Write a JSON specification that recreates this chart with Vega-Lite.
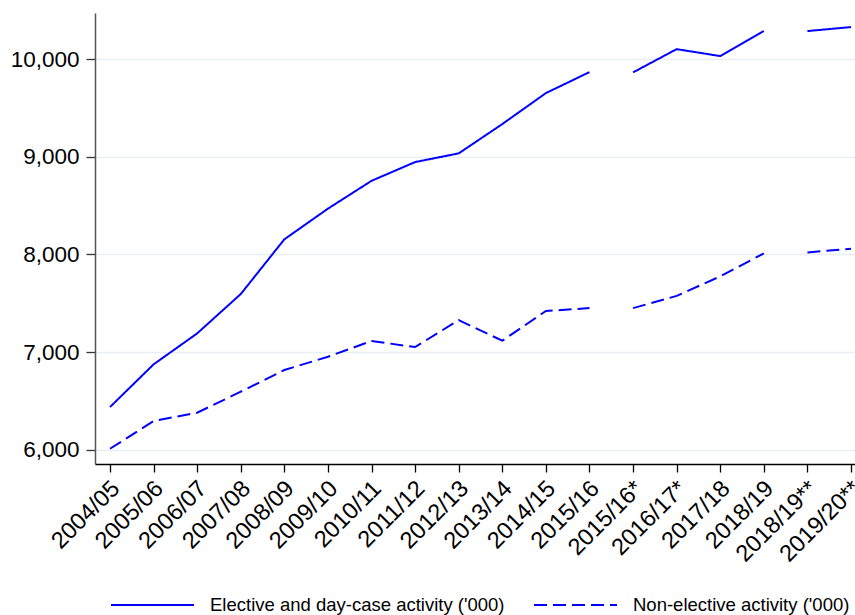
{
  "$schema": "https://vega.github.io/schema/vega-lite/v6.json",
  "width": 771,
  "height": 451,
  "padding": {"left": 10, "top": 13, "right": 5, "bottom": 5},
  "background": "white",
  "config": {
    "view": {"stroke": null},
    "font": "Liberation Sans",
    "axis": {"labelFont": "Liberation Sans", "labelColor": "#000000", "tickColor": "#000000", "domainColor": "#000000", "titleFont": "Liberation Sans"},
    "legend": {"labelFont": "Liberation Sans", "labelFontSize": 18.5, "labelColor": "#000000", "labelLimit": 0}
  },
  "data": {
    "values": [
      {"year": "2004/05", "series": "Elective and day-case activity ('000)", "segment": 1, "value": 6437},
      {"year": "2005/06", "series": "Elective and day-case activity ('000)", "segment": 1, "value": 6874},
      {"year": "2006/07", "series": "Elective and day-case activity ('000)", "segment": 1, "value": 7191},
      {"year": "2007/08", "series": "Elective and day-case activity ('000)", "segment": 1, "value": 7594},
      {"year": "2008/09", "series": "Elective and day-case activity ('000)", "segment": 1, "value": 8154},
      {"year": "2009/10", "series": "Elective and day-case activity ('000)", "segment": 1, "value": 8468},
      {"year": "2010/11", "series": "Elective and day-case activity ('000)", "segment": 1, "value": 8753},
      {"year": "2011/12", "series": "Elective and day-case activity ('000)", "segment": 1, "value": 8945},
      {"year": "2012/13", "series": "Elective and day-case activity ('000)", "segment": 1, "value": 9034},
      {"year": "2013/14", "series": "Elective and day-case activity ('000)", "segment": 1, "value": 9334},
      {"year": "2014/15", "series": "Elective and day-case activity ('000)", "segment": 1, "value": 9651},
      {"year": "2015/16", "series": "Elective and day-case activity ('000)", "segment": 1, "value": 9866},
      {"year": "2015/16*", "series": "Elective and day-case activity ('000)", "segment": 2, "value": 9863},
      {"year": "2016/17*", "series": "Elective and day-case activity ('000)", "segment": 2, "value": 10101},
      {"year": "2017/18", "series": "Elective and day-case activity ('000)", "segment": 2, "value": 10030},
      {"year": "2018/19", "series": "Elective and day-case activity ('000)", "segment": 2, "value": 10286},
      {"year": "2018/19**", "series": "Elective and day-case activity ('000)", "segment": 3, "value": 10286},
      {"year": "2019/20**", "series": "Elective and day-case activity ('000)", "segment": 3, "value": 10327},
      {"year": "2004/05", "series": "Non-elective activity ('000)", "segment": 1, "value": 6010},
      {"year": "2005/06", "series": "Non-elective activity ('000)", "segment": 1, "value": 6294},
      {"year": "2006/07", "series": "Non-elective activity ('000)", "segment": 1, "value": 6379},
      {"year": "2007/08", "series": "Non-elective activity ('000)", "segment": 1, "value": 6594},
      {"year": "2008/09", "series": "Non-elective activity ('000)", "segment": 1, "value": 6816},
      {"year": "2009/10", "series": "Non-elective activity ('000)", "segment": 1, "value": 6952},
      {"year": "2010/11", "series": "Non-elective activity ('000)", "segment": 1, "value": 7113},
      {"year": "2011/12", "series": "Non-elective activity ('000)", "segment": 1, "value": 7051},
      {"year": "2012/13", "series": "Non-elective activity ('000)", "segment": 1, "value": 7327},
      {"year": "2013/14", "series": "Non-elective activity ('000)", "segment": 1, "value": 7116},
      {"year": "2014/15", "series": "Non-elective activity ('000)", "segment": 1, "value": 7420},
      {"year": "2015/16", "series": "Non-elective activity ('000)", "segment": 1, "value": 7450},
      {"year": "2015/16*", "series": "Non-elective activity ('000)", "segment": 2, "value": 7450},
      {"year": "2016/17*", "series": "Non-elective activity ('000)", "segment": 2, "value": 7575},
      {"year": "2017/18", "series": "Non-elective activity ('000)", "segment": 2, "value": 7775},
      {"year": "2018/19", "series": "Non-elective activity ('000)", "segment": 2, "value": 8010},
      {"year": "2018/19**", "series": "Non-elective activity ('000)", "segment": 3, "value": 8020},
      {"year": "2019/20**", "series": "Non-elective activity ('000)", "segment": 3, "value": 8057}
    ]
  },
  "mark": {"type": "line", "color": "#0000ff", "strokeWidth": 2},
  "encoding": {
    "x": {
      "field": "year",
      "type": "ordinal",
      "sort": null,
      "scale": {"type": "point", "padding": 0.344},
      "axis": {
        "title": null,
        "labelAngle": -45,
        "labelAlign": "right",
        "labelBaseline": "top",
        "labelFontSize": 23.5,
        "labelOffset": -3,
        "tickSize": 8,
        "tickWidth": 1.3,
        "labelPadding": 4,
        "domainColor": "#000000",
        "domainWidth": 1.3,
        "grid": false
      }
    },
    "y": {
      "field": "value",
      "type": "quantitative",
      "scale": {"domain": [5854, 10471], "nice": false, "zero": false},
      "axis": {
        "title": null,
        "values": [6000, 7000, 8000, 9000, 10000],
        "format": ",d",
        "labelFontSize": 22.5,
        "tickSize": 9,
        "tickWidth": 1.3,
        "labelPadding": 7,
        "domainColor": "#555555",
        "tickColor": "#333333",
        "domainWidth": 1.5,
        "grid": true,
        "gridColor": "#e8eff2",
        "gridWidth": 1.6
      }
    },
    "strokeDash": {
      "field": "series",
      "type": "nominal",
      "scale": {
        "domain": ["Elective and day-case activity ('000)", "Non-elective activity ('000)"],
        "range": [[1, 0], [13, 6]]
      },
      "legend": {
        "title": null,
        "orient": "none",
        "legendX": 15,
        "legendY": 549.5,
        "direction": "horizontal",
        "symbolType": "stroke",
        "symbolSize": 6889,
        "symbolStrokeWidth": 1.8,
        "symbolStrokeColor": "#0000ff",
        "labelOffset": 15,
        "columnPadding": 25
      }
    },
    "detail": {"field": "segment", "type": "nominal"}
  }
}
